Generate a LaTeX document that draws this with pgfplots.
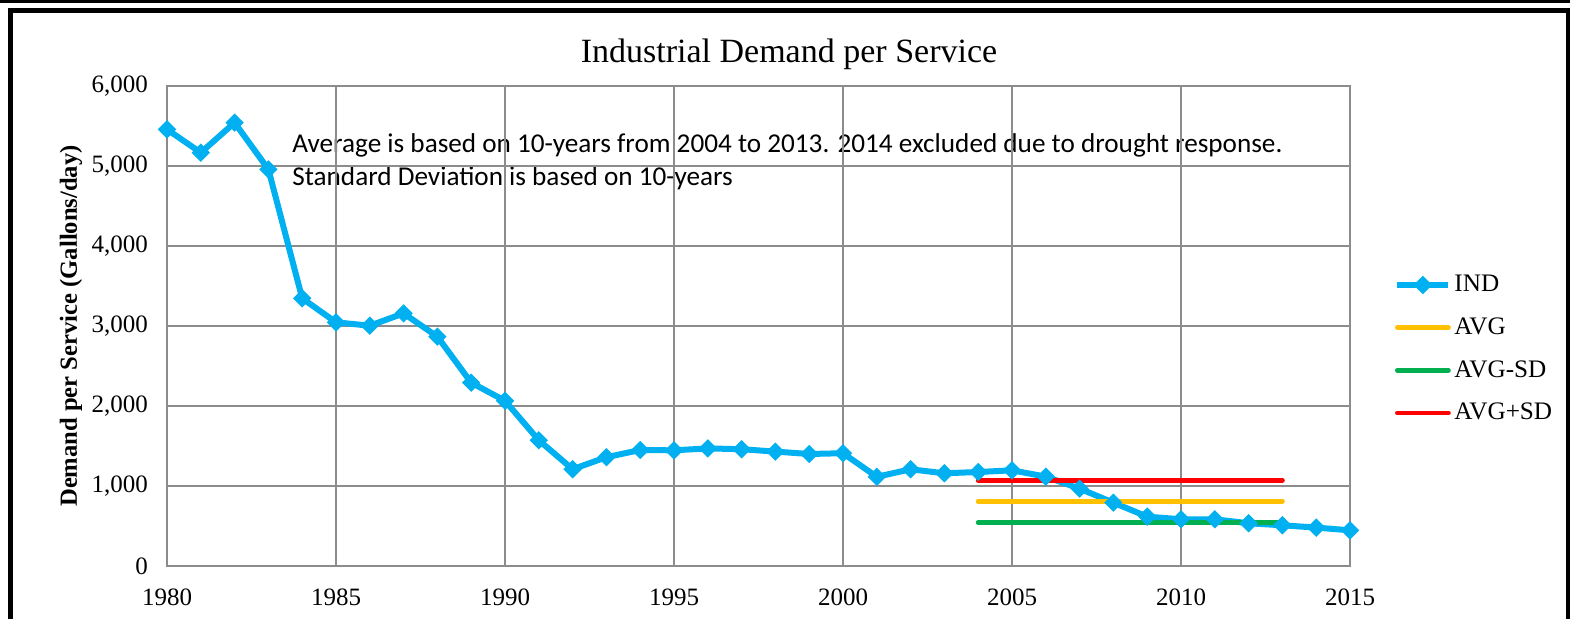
\documentclass[border=0pt]{standalone}
\usepackage{pgfplots}
\pgfplotsset{compat=1.18}
\usepackage{fontspec}
\setmainfont{Liberation Serif}
\newfontfamily\carlito{Carlito}
\definecolor{indblue}{HTML}{00B0F0}
\definecolor{avgyel}{HTML}{FFC000}
\definecolor{sdgreen}{HTML}{00B050}
\definecolor{sdred}{HTML}{FF0000}
\definecolor{gridgray}{HTML}{8C8C8C}
\begin{document}
\begin{tikzpicture}
\useasboundingbox (0,0) rectangle (785pt,309pt);
\clip (0,0) rectangle (785pt,309pt);
% outer frame pieces
\draw[line width=1.5pt] (-2pt,308.25pt) -- (790pt,308.25pt);
\draw[line width=2.5pt] (5pt,-10pt) -- (5pt,303.6pt) -- (784.2pt,303.6pt) -- (784.2pt,-10pt);
% title
\node[anchor=base, font=\fontsize{17}{20}\selectfont, inner sep=0pt] at (394.5pt,278pt) {Industrial Demand per Service};
% y label
\node[rotate=90, font=\bfseries\fontsize{12.3}{14}\selectfont, inner sep=0pt] at (35.5pt,146pt) {Demand per Service (Gallons/day)};
% annotation
\node[anchor=base west, align=left, inner sep=0pt, font=\carlito\fontsize{13.6}{16.5}\selectfont] at (146pt,216.5pt) {Average is based on 10-years from 2004 to 2013. 2014 excluded due to drought response.\\Standard Deviation is based on 10-years};
\begin{axis}[
  at={(83.5pt,26pt)}, anchor=south west,
  scale only axis, width=591.5pt, height=240pt,
  xmin=1980, xmax=2015, ymin=0, ymax=6000,
  xtick={1980,1985,...,2015}, ytick={0,1000,...,6000},
  grid=major,
  major grid style={gridgray, line width=0.7pt},
  axis line style={gridgray, line width=0.7pt},
  major tick length=0pt,
  tick label style={font=\fontsize{12.5}{14}\selectfont},
  /pgf/number format/assume math mode=true,
  xticklabel style={/pgf/number format/1000 sep={}, yshift=-8pt},
  yticklabel style={/pgf/number format/1000 sep={,}, xshift=-6pt},
  clip=false,
  legend cell align=left,
  legend style={draw=none, fill=none, at={(1.0372,0.452)}, anchor=west, inner sep=0pt,
    font=\fontsize{12.6}{14}\selectfont, row sep=11.5pt,
    nodes={inner xsep=1.5pt, inner ysep=0pt}},
  legend image code/.code={\draw[mark repeat=2,mark phase=2,#1] plot coordinates {(0pt,0pt) (12.75pt,0pt) (25.5pt,0pt)};},
]
\addplot[color=indblue, line width=3pt, mark=square*, mark size=3pt, mark options={rotate=45, solid, line width=0.5pt, fill=indblue}] coordinates {
(1980,5458) (1981,5167) (1982,5542) (1983,4958) (1984,3346) (1985,3046)
(1986,3004) (1987,3158) (1988,2867) (1989,2292) (1990,2065) (1991,1572)
(1992,1210) (1993,1360) (1994,1450) (1995,1446) (1996,1470) (1997,1460)
(1998,1430) (1999,1400) (2000,1410) (2001,1115) (2002,1209) (2003,1159)
(2004,1175) (2005,1196) (2006,1117) (2007,967) (2008,792) (2009,617)
(2010,584) (2011,584) (2012,534) (2013,509) (2014,480) (2015,446)
};
\addlegendentry{IND}
\addplot[color=avgyel, line width=2.4pt, line cap=round] coordinates {(2004,808) (2013,808)};
\addlegendentry{AVG}
\addplot[color=sdgreen, line width=2.4pt, line cap=round] coordinates {(2004,544) (2013,544)};
\addlegendentry{AVG-SD}
\addplot[color=sdred, line width=2.4pt, line cap=round] coordinates {(2004,1072) (2013,1072)};
\addlegendentry{AVG+SD}
\end{axis}
\end{tikzpicture}
\end{document}
